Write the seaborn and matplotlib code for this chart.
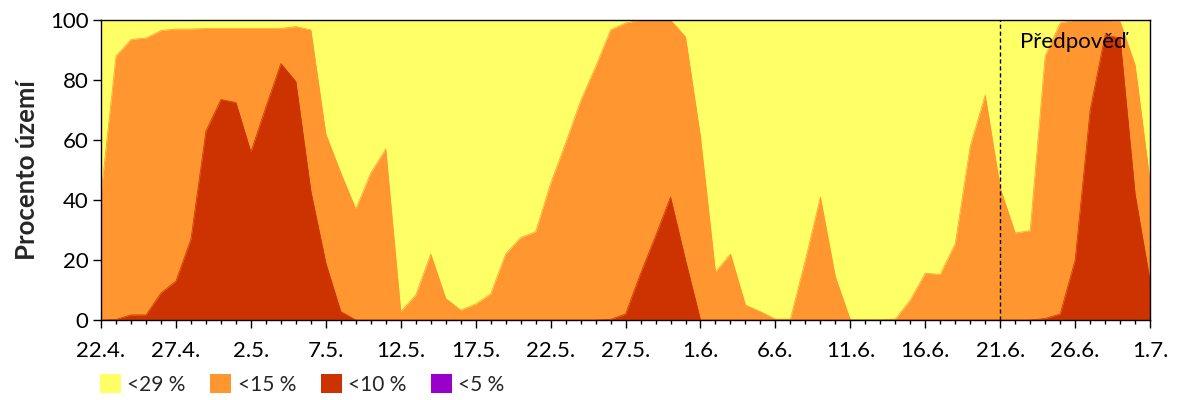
import numpy as np
import pandas as pd
import seaborn as sns
import matplotlib.pyplot as plt
from matplotlib.patches import Patch
from matplotlib.ticker import MultipleLocator

# daily values, 22.4. .. 1.7.
days = np.arange(71)
tick_labels = ["22.4.", "27.4.", "2.5.", "7.5.", "12.5.", "17.5.", "22.5.",
               "27.5.", "1.6.", "6.6.", "11.6.", "16.6.", "21.6.", "26.6.", "1.7."]

lt29 = [100] * 71
lt15 = [42, 88, 93.5, 94, 96.5, 97, 97, 97.2, 97.2, 97.2, 97.2, 97.2, 97.2, 97.8, 96.7,
        62, 49, 37, 49, 57, 2.8, 8.3, 22, 7.2, 3.3, 5.3, 8.7, 22, 27.5, 29.4,
        45.5, 59, 73, 84.4, 96.7, 99, 100, 100, 100, 94.4, 61, 16, 22, 5, 2.8,
        0.3, 0.3, 20, 41, 14.4, 0, 0, 0, 0.3, 6.7, 15.6, 15.2, 25.5, 58, 75,
        44, 29, 29.8, 88, 99, 100, 100, 100, 99.5, 85, 46]
lt10 = [0, 0.2, 1.7, 1.7, 9, 13, 27, 63, 73.5, 72.5, 56, 71, 85.5, 79.5, 43,
        19, 2.8, 0, 0, 0, 0, 0, 0, 0, 0, 0, 0, 0, 0, 0,
        0, 0, 0, 0, 0.2, 2, 15.5, 28, 41, 20, 0, 0, 0, 0, 0,
        0, 0, 0, 0, 0, 0, 0, 0, 0, 0, 0, 0, 0, 0, 0,
        0, 0, 0, 0.5, 2, 20, 70, 95, 94, 42, 13]
lt5 = [0] * 71

labels = ["<29 %", "<15 %", "<10 %", "<5 %"]
colors = ["#FFFF66", "#FF9630", "#CC3300", "#9900CC"]

df = pd.DataFrame({"day": days, labels[0]: lt29, labels[1]: lt15,
                   labels[2]: lt10, labels[3]: lt5})

sns.set_theme(style="ticks")
plt.rcParams["font.family"] = ["Lato", "DejaVu Sans"]

fig = plt.figure(figsize=(12, 4), dpi=100)
ax = fig.add_axes([0.0842, 0.2, 0.8742, 0.75])

for lab, col in zip(labels, colors):
    ax.fill_between(df["day"], 0, df[lab], color=col, linewidth=0)
    sns.lineplot(data=df, x="day", y=lab, ax=ax, color=col, linewidth=0.5)

ax.axvline(60, color="black", linewidth=1, linestyle=(0, (3, 2)))
ax.text(61.3, 92.7, "Předpověď", fontsize=16, color="black", va="center")

ax.set_xlim(0, 70)
ax.set_ylim(0, 100)
ax.set_xticks(np.arange(0, 71, 5))
ax.set_xticklabels(tick_labels)
ax.xaxis.set_minor_locator(MultipleLocator(1))
ax.set_yticks(np.arange(0, 101, 20))
ax.tick_params(axis="both", which="major", labelsize=16, length=6, width=1,
               color="black", labelcolor="black")
ax.tick_params(axis="x", which="minor", length=3, width=1, color="black")
ax.tick_params(axis="x", pad=9)
ax.tick_params(axis="y", pad=3)
ax.set_xlabel("")
ax.set_ylabel("Procento území", fontsize=18.5, fontweight="bold", labelpad=8)
for sp in ax.spines.values():
    sp.set_color("black")
    sp.set_linewidth(1)

handles = [Patch(facecolor=c, edgecolor="none") for c in colors]
fig.legend(handles, labels, loc="center left", bbox_to_anchor=(0.0833, 0.039),
           ncol=4, frameon=False, fontsize=15, handlelength=1.0, handleheight=1.0,
           handletextpad=0.3, columnspacing=1.2, borderpad=0, borderaxespad=0)

fig.savefig("out.png", dpi=100)
